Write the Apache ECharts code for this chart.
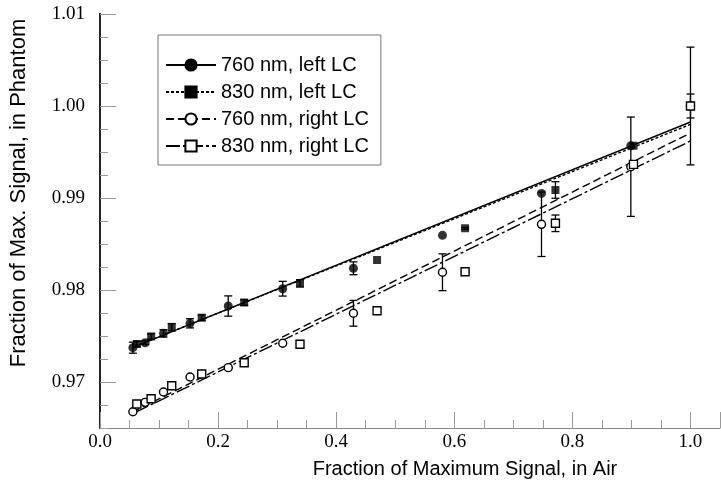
<!DOCTYPE html>
<html><head><meta charset="utf-8">
<script src="https://cdn.jsdelivr.net/npm/echarts@6/dist/echarts.min.js"></script>
<style>html,body{margin:0;padding:0;background:#fff}#c{width:721px;height:493px}</style>
</head><body><div id="c"></div>
<script>
// ---- data ----
const names = ['760 nm, left LC', '830 nm, left LC', '760 nm, right LC', '830 nm, right LC'];
// 760 nm, left LC (filled circles): [x, y, err]
const left760 = [[0.0557,0.97373,0.0006],[0.0765,0.97427,0.0002],[0.1075,0.97529,0.0004],[0.1525,0.97638,0.0005],[0.2172,0.97826,0.0011],[0.3094,0.98014,0.0008],[0.4292,0.98236,0.0007],[0.58,0.98594,0],[0.7477,0.9905,0],[0.899,0.99568,0],[1.0,1.0,0]];
// 830 nm, left LC (filled squares)
const left830 = [[0.0624,0.97413,0.0003],[0.0866,0.97495,0.0003],[0.1215,0.97595,0.0004],[0.1722,0.97699,0.0003],[0.2442,0.97864,0.0003],[0.3387,0.98073,0.0004],[0.4692,0.98326,0],[0.6183,0.98671,0.0001],[0.7713,0.99087,0.0009],[0.9035,0.99568,0],[1.0,1.0,0.0013]];
// 760 nm, right LC (open circles)
const right760 = [[0.0557,0.96677,0],[0.0765,0.96779,0],[0.1075,0.96891,0],[0.1525,0.97054,0],[0.2172,0.97156,0.0001],[0.3094,0.97421,0],[0.4292,0.97747,0.0014],[0.58,0.98193,0.002],[0.7477,0.98714,0.0035],[0.899,0.9934,0.0054],[1.0,1.0,0.0064]];
// 830 nm, right LC (open squares)
const right830 = [[0.0624,0.96761,0],[0.0866,0.96818,0],[0.1215,0.9696,0.0003],[0.1722,0.97087,0.0003],[0.2442,0.9721,0.0003],[0.3387,0.9741,0.0004],[0.4692,0.97775,0],[0.6183,0.98199,0],[0.7713,0.98725,0.0009],[0.9035,0.99366,0],[1.0,1.0,0]];
// fitted lines: [x, y] endpoints
const fitLeft760 = [[0.054,0.9737],[1.0,0.99826]];
const fitLeft830 = [[0.06,0.9739],[1.0,0.9980]];
const fitRight760 = [[0.054,0.9667],[1.0,0.99707]];
const fitRight830 = [[0.06,0.9667],[1.0,0.9962]];
// axis ticks
const xMin = 0, xMax = 1.05, xStep = 0.2;
const yMin = 0.965, yMax = 1.01, yMinorStep = 0.0025;
const yMajor = [0.97, 0.98, 0.99, 1.00, 1.01];

const serif = 'Liberation Serif';
const sans = 'Liberation Sans';
const chart = echarts.init(document.getElementById('c'));

function errSeries(arr) {
  return {
    type: 'custom', z: 2, silent: true,
    data: arr.filter(d => d[2] > 0).map(d => [d[0], d[1] - d[2], d[1] + d[2]]),
    renderItem: function (params, api) {
      const x = api.value(0);
      const lo = api.coord([x, api.value(1)]);
      const hi = api.coord([x, api.value(2)]);
      const w = 4;
      const st = { stroke: '#000', lineWidth: 1.3 };
      return { type: 'group', children: [
        { type: 'line', shape: { x1: lo[0], y1: lo[1], x2: hi[0], y2: hi[1] }, style: st },
        { type: 'line', shape: { x1: lo[0] - w, y1: lo[1], x2: lo[0] + w, y2: lo[1] }, style: st },
        { type: 'line', shape: { x1: hi[0] - w, y1: hi[1], x2: hi[0] + w, y2: hi[1] }, style: st }
      ]};
    }
  };
}
function fitSeries(name, pts, lineType, symbol, size) {
  return {
    name: name, type: 'line', data: pts, showSymbol: false, symbol: symbol, symbolSize: size,
    z: 3, silent: true,
    itemStyle: { color: '#000', borderColor: '#000', borderWidth: 1.3 },
    lineStyle: { color: '#000', width: 1.4, type: lineType }
  };
}
function scatterSeries(arr, symbol, size, filled) {
  return {
    type: 'scatter', data: arr.map(d => [d[0], d[1]]), symbol: symbol, symbolSize: size, z: 5, silent: true,
    itemStyle: filled ? { color: '#000' } : { color: '#fff', borderColor: '#000', borderWidth: 1.4, opacity: 1 }
  };
}

const option = {
  animation: false,
  backgroundColor: '#fff',
  grid: { left: 98, right: 1, top: 14, bottom: 65 },
  legend: {
    data: names, orient: 'vertical', left: 158, top: 35,
    padding: [20, 12, 9, 7], itemGap: 7, itemWidth: 50, itemHeight: 14,
    backgroundColor: '#fff', borderColor: '#777', borderWidth: 1,
    textStyle: { fontFamily: sans, fontSize: 20, color: '#000' }
  },
  xAxis: {
    type: 'value', min: xMin, max: xMax, interval: xStep,
    name: 'Fraction of Maximum Signal, in Air', nameLocation: 'middle', nameGap: 31,
    nameTextStyle: { fontFamily: sans, fontSize: 20, color: '#000', padding: [0, 0, 0, 110] },
    axisLine: { lineStyle: { color: '#888', width: 1 } },
    axisTick: { inside: true, length: 16, lineStyle: { color: '#999' } },
    minorTick: { show: true, splitNumber: 4, length: 8, lineStyle: { color: '#999' } },
    splitLine: { show: false },
    axisLabel: { margin: 5, fontFamily: serif, fontSize: 19, color: '#000', showMaxLabel: false,
      formatter: v => v.toFixed(1) }
  },
  yAxis: [{
    type: 'value', min: yMin, max: yMax,
    name: 'Fraction of Max. Signal, in Phantom', nameLocation: 'middle', nameGap: 70,
    nameTextStyle: { fontFamily: sans, fontSize: 22, color: '#000', padding: [0, 0, 0, 56] },
    axisLine: { lineStyle: { color: '#222', width: 2 } },
    axisTick: { inside: true, length: 16, customValues: yMajor, lineStyle: { color: '#999' } },
    splitLine: { show: false },
    axisLabel: { margin: 15, fontFamily: serif, fontSize: 19, color: '#000', customValues: yMajor,
      formatter: v => v.toFixed(2) }
  }, {
    type: 'value', min: yMin, max: yMax, interval: yMinorStep, position: 'left', offset: 0,
    axisLine: { show: true, lineStyle: { color: '#222', width: 2 } },
    axisTick: { show: true, inside: true, length: 8, lineStyle: { color: '#999' } },
    splitLine: { show: false },
    axisLabel: { show: false }
  }],
  series: [
    errSeries(left760), errSeries(left830), errSeries(right760), errSeries(right830),
    fitSeries(names[0], fitLeft760, 'solid', 'circle', 10),
    fitSeries(names[1], fitLeft830, [3, 2], 'rect', 9),
    fitSeries(names[2], fitRight760, [8, 4], 'emptyCircle', 9),
    fitSeries(names[3], fitRight830, [14, 3, 3, 3], 'emptyRect', 9),
    scatterSeries(left760, 'circle', 9, true),
    scatterSeries(left830, 'rect', 8, true),
    scatterSeries(right760, 'circle', 8, false),
    scatterSeries(right830, 'rect', 8, false)
  ]
};
chart.setOption(option);
</script></body></html>
